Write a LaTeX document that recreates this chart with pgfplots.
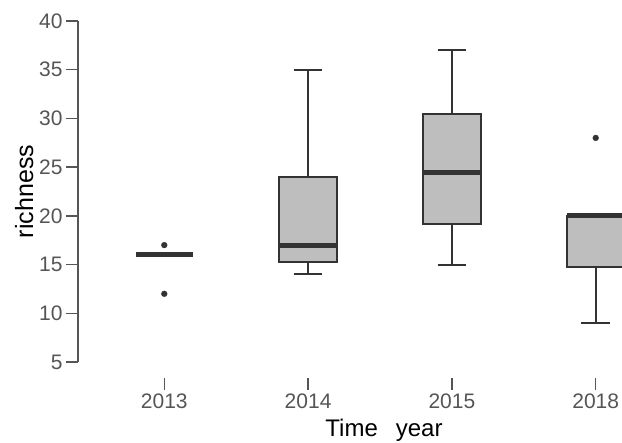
\documentclass[border=0pt]{standalone}
\usepackage{fontspec}
\setmainfont{Liberation Sans}
\usepackage{pgfplots}
\pgfplotsset{compat=1.18}
\definecolor{boxfill}{HTML}{BEBEBE}
\definecolor{linec}{HTML}{333333}
\definecolor{tickc}{HTML}{555555}
\begin{document}
\begin{tikzpicture}
\begin{axis}[
  at={(78pt,65pt)}, anchor=south west,
  scale only axis, width=604pt, height=357pt,
  xmin=-0.6, xmax=3.6, ymin=3.36, ymax=40,
  axis x line*=bottom, axis y line*=left,
  axis line style={draw=none},
  xtick={0,1,2,3}, xticklabels={2013,2014,2015,2018},
  ytick={5,10,...,40},
  tick align=outside,
  major tick length=12pt,
  tick style={tickc, line width=1.4pt},
  ticklabel style={text=tickc, font=\fontsize{21}{25}\selectfont},
  /pgf/number format/assume math mode=true,
  wline/.style={draw=linec, line width=2.1pt, mark=none},
  boxst/.style={draw=linec, fill=boxfill, line width=2.1pt, mark=none, line join=miter},
  medst/.style={draw=linec, line width=5pt, mark=none},
  outst/.style={only marks, mark=*, mark size=2.9pt, mark options={solid, fill=linec, draw=linec}},
]
% ---- 2013 (all quartiles at 16)
\addplot[medst] coordinates {(-0.2,16) (0.2,16)};
\addplot[outst] coordinates {(0,17) (0,12)};
% ---- 2014
\addplot[wline] coordinates {(1,24) (1,35)};
\addplot[wline] coordinates {(0.9,35) (1.1,35)};
\addplot[wline] coordinates {(1,15.25) (1,14)};
\addplot[wline] coordinates {(0.9,14) (1.1,14)};
\addplot[boxst] coordinates {(0.8,15.25) (1.2,15.25) (1.2,24) (0.8,24)} -- cycle;
\addplot[medst] coordinates {(0.8,17) (1.2,17)};
% ---- 2015
\addplot[wline] coordinates {(2,30.5) (2,37)};
\addplot[wline] coordinates {(1.9,37) (2.1,37)};
\addplot[wline] coordinates {(2,19.2) (2,15)};
\addplot[wline] coordinates {(1.9,15) (2.1,15)};
\addplot[boxst] coordinates {(1.8,19.2) (2.2,19.2) (2.2,30.5) (1.8,30.5)} -- cycle;
\addplot[medst] coordinates {(1.8,24.5) (2.2,24.5)};
% ---- 2018
\addplot[wline] coordinates {(3,14.75) (3,9)};
\addplot[wline] coordinates {(2.9,9) (3.1,9)};
\addplot[boxst] coordinates {(2.8,14.75) (3.2,14.75) (3.2,20) (2.8,20)} -- cycle;
\addplot[medst] coordinates {(2.8,20) (3.2,20)};
\addplot[outst] coordinates {(3,28)};
\end{axis}
\draw[tickc, line width=1.4pt] (78pt,81pt) -- (78pt,422pt);
\node[rotate=90, anchor=base, text=black, font=\fontsize{25}{30}\selectfont] at (33pt,251.5pt) {richness};
\node[anchor=base, text=black, font=\fontsize{24}{29}\selectfont] at (384pt,6pt) {Time\hspace{0.75em}year};
\pgfresetboundingbox
\useasboundingbox (0,0) rectangle (622pt,443pt);
\end{tikzpicture}
\end{document}
